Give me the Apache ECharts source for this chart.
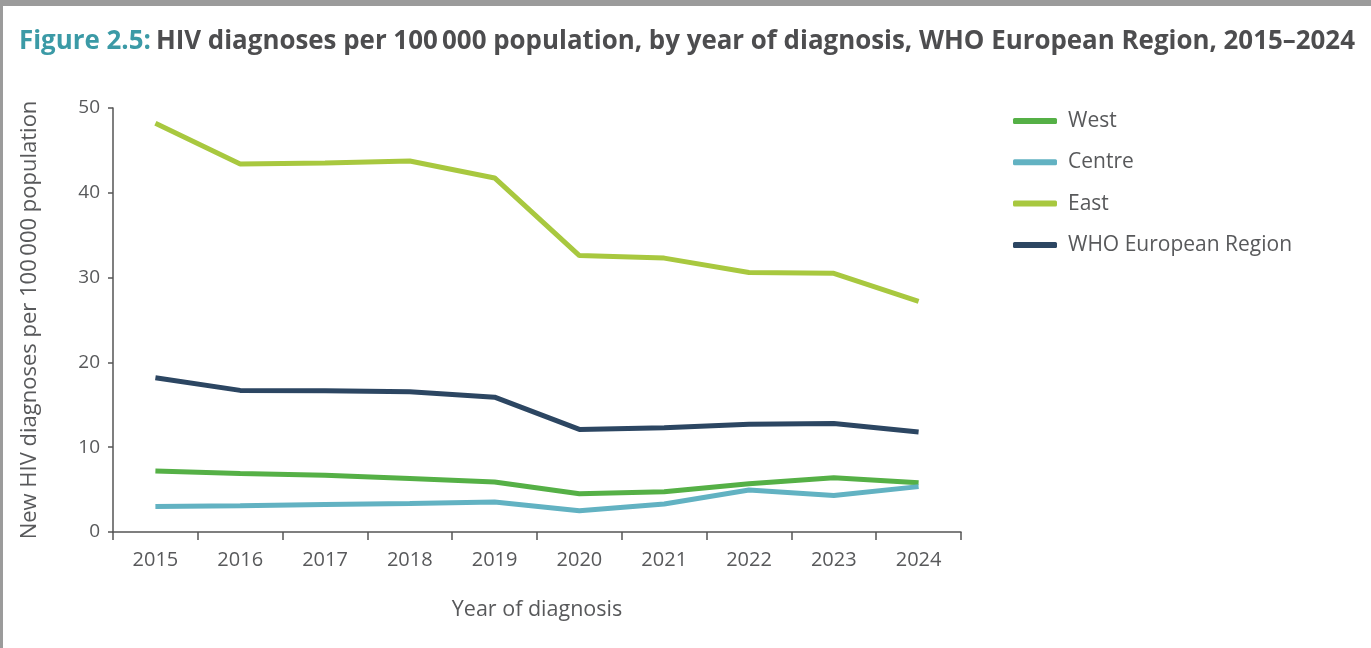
<!DOCTYPE html>
<html>
<head>
<meta charset="utf-8">
<script src="https://cdn.jsdelivr.net/npm/echarts@6/dist/echarts.min.js"></script>
<style>
  html, body { margin: 0; padding: 0; background: #9b9b9b; }
  #chart { position: absolute; left: 3px; top: 6px; width: 1368px; height: 642px; background: #ffffff; }
</style>
</head>
<body>
<div id="chart"></div>
<script>
const years = ['2015','2016','2017','2018','2019','2020','2021','2022','2023','2024'];
const west = [7.2, 6.9, 6.7, 6.3, 5.9, 4.5, 4.75, 5.7, 6.4, 5.8];
const centre = [3.0, 3.1, 3.25, 3.35, 3.55, 2.5, 3.3, 4.95, 4.3, 5.35];
const east = [48.2, 43.4, 43.5, 43.75, 41.75, 32.6, 32.3, 30.6, 30.5, 27.2];
const who = [18.2, 16.7, 16.65, 16.55, 15.9, 12.1, 12.3, 12.7, 12.8, 11.8];
const yTicks = [0, 10, 20, 30, 40, 50];

const FONT = '"Open Sans", "Noto Sans", sans-serif';
const GREY = '#58595b';

const chart = echarts.init(document.getElementById('chart'));
chart.setOption({
  animation: false,
  title: {
    text: '{a|Figure 2.5:} {b|HIV diagnoses per 100\u2009000 population, by year of diagnosis, WHO European Region, 2015\u20132024}',
    left: 11,
    top: 18,
    textStyle: {
      rich: {
        a: { fontFamily: FONT, fontWeight: 'bold', fontSize: 25.9, color: '#3b9aa6' },
        b: { fontFamily: FONT, fontWeight: 'bold', fontSize: 25.9, color: '#4d4d4f' }
      }
    }
  },
  legend: {
    orient: 'vertical',
    left: 1005,
    top: 99,
    itemWidth: 44,
    itemHeight: 6,
    itemGap: 19.3,
    icon: 'roundRect',
    textStyle: { fontFamily: FONT, fontSize: 21, color: GREY, lineHeight: 22, padding: [0, 0, 0, 6] },
    data: ['West', 'Centre', 'East', 'WHO European Region']
  },
  grid: { left: 110, top: 102, width: 848, height: 424, containLabel: false },
  xAxis: {
    type: 'category',
    data: years,
    boundaryGap: true,
    name: 'Year of diagnosis',
    nameLocation: 'middle',
    nameGap: 67,
    nameTextStyle: { fontFamily: FONT, fontSize: 21.5, color: GREY },
    axisLine: { lineStyle: { color: '#555555', width: 1.5 } },
    axisTick: { show: true, length: 8, lineStyle: { color: '#555555', width: 1.5 } },
    axisLabel: { fontFamily: FONT, fontSize: 20, color: GREY, margin: 18 },
    splitLine: { show: false }
  },
  yAxis: {
    type: 'value',
    min: yTicks[0],
    max: yTicks[yTicks.length - 1],
    interval: 10,
    name: 'New HIV diagnoses per 100\u2009000 population',
    nameLocation: 'middle',
    nameGap: 72,
    nameTextStyle: { fontFamily: FONT, fontSize: 22, color: GREY },
    axisLine: { show: true, lineStyle: { color: '#555555', width: 1.5 } },
    axisTick: { show: true, length: 5, lineStyle: { color: '#555555', width: 1.5 } },
    axisLabel: { fontFamily: FONT, fontSize: 19, color: GREY, margin: 13 },
    splitLine: { show: false }
  },
  series: [
    { name: 'West', type: 'line', data: west, symbol: 'none', color: '#55b046', lineStyle: { width: 5, color: '#55b046' } },
    { name: 'Centre', type: 'line', data: centre, symbol: 'none', color: '#62b2c2', lineStyle: { width: 5, color: '#62b2c2' } },
    { name: 'East', type: 'line', data: east, symbol: 'none', color: '#a8c83f', lineStyle: { width: 5, color: '#a8c83f' } },
    { name: 'WHO European Region', type: 'line', data: who, symbol: 'none', color: '#2c4662', lineStyle: { width: 5, color: '#2c4662' } }
  ]
});
</script>
</body>
</html>
